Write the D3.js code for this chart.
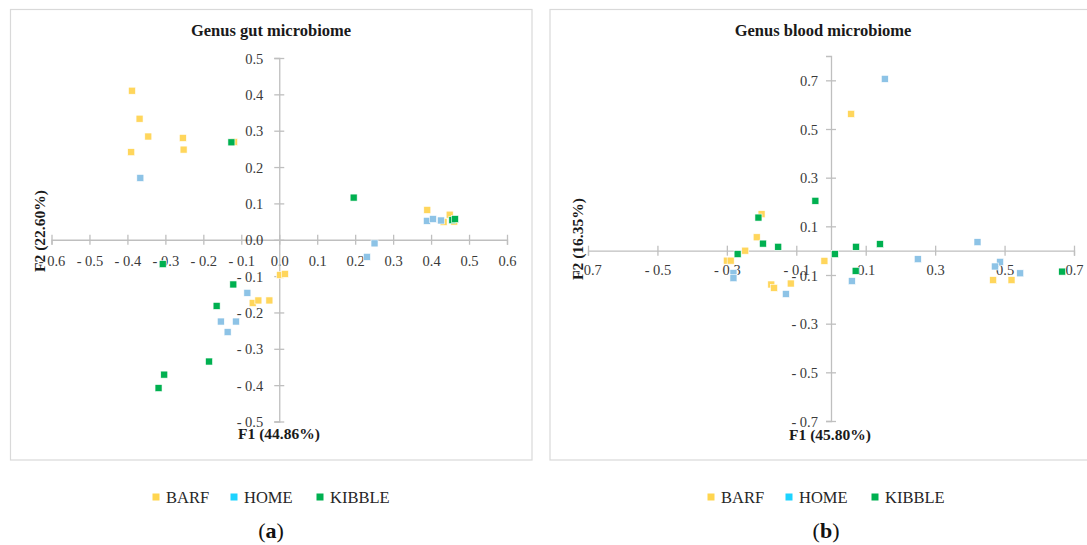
<!DOCTYPE html>
<html lang="en">
<head>
    <meta charset="UTF-8">
    <title>Genus gut / blood microbiome</title>
    <script src="https://d3js.org/d3.v7.min.js"></script>
    <style>
        body { margin: 0; background: #fff; }
    </style>
</head>
<body>
    <svg id="chart" width="1087" height="545"></svg>

    <script>
        // series order and colours
        const groups = ["BARF", "HOME", "KIBBLE"];
        const markerColors = ["#FFD65C", "#8DC3E6", "#00B050"];
        const legendColors = ["#FFD54F", "#1DD3FF", "#00B050"];

        // (a) genus gut microbiome, [F1, F2]
        const gutBarf = [
            [-0.388, 0.410], [-0.368, 0.333], [-0.345, 0.284], [-0.390, 0.241],
            [-0.254, 0.280], [-0.252, 0.248], [-0.119, 0.269], [0.002, -0.097],
            [0.015, -0.094], [-0.070, -0.174], [-0.055, -0.167], [-0.026, -0.167],
            [0.390, 0.082], [0.433, 0.049], [0.449, 0.069], [0.461, 0.050]
        ];
        const gutHome = [
            [-0.366, 0.170], [-0.084, -0.146], [-0.154, -0.225], [-0.114, -0.225],
            [-0.136, -0.254], [0.251, -0.010], [0.231, -0.047], [0.389, 0.052],
            [0.405, 0.057], [0.426, 0.053]
        ];
        const gutKibble = [
            [-0.126, 0.268], [-0.307, -0.067], [-0.121, -0.123], [-0.165, -0.182],
            [-0.185, -0.335], [-0.303, -0.371], [-0.318, -0.408], [0.196, 0.116],
            [0.456, 0.054], [0.463, 0.057]
        ];

        // (b) genus blood microbiome, [F1, F2]
        const bloodBarf = [
            [-0.300, -0.041], [-0.289, -0.041], [-0.247, 0.000], [-0.214, 0.055],
            [-0.200, 0.150], [-0.172, -0.139], [-0.164, -0.153], [-0.116, -0.135],
            [-0.019, -0.042], [0.058, 0.562], [0.467, -0.121], [0.520, -0.121]
        ];
        const bloodHome = [
            [-0.281, -0.092], [-0.281, -0.113], [-0.130, -0.178], [0.060, -0.125],
            [0.250, -0.035], [0.422, 0.035], [0.487, -0.046], [0.472, -0.065],
            [0.545, -0.093], [0.155, 0.706]
        ];
        const bloodKibble = [
            [-0.269, -0.014], [-0.209, 0.136], [-0.196, 0.029], [-0.152, 0.016],
            [-0.045, 0.205], [0.011, -0.014], [0.072, 0.016], [0.071, -0.083],
            [0.141, 0.027], [0.666, -0.086]
        ];

        // tick values
        const gutXTicks = [-0.6, -0.5, -0.4, -0.3, -0.2, -0.1, 0, 0.1, 0.2, 0.3, 0.4, 0.5, 0.6];
        const gutYTicks = [-0.5, -0.4, -0.3, -0.2, -0.1, 0, 0.1, 0.2, 0.3, 0.4, 0.5];
        const bloodXTicks = [-0.7, -0.5, -0.3, -0.1, 0.1, 0.3, 0.5, 0.7];
        const bloodYTicks = [-0.7, -0.5, -0.3, -0.1, 0.1, 0.3, 0.5, 0.7];

        const FONT = "'Liberation Serif', 'Times New Roman', serif";
        const svg = d3.select("#chart");

        // Excel style labels: "- 0.3"
        function fmt(v) {
            const s = Math.abs(v).toFixed(1);
            return v < -1e-9 ? "- " + s : s;
        }

        function drawPanel(p) {
            const g = svg.append("g").style("font-family", FONT);

            // frame
            g.append("rect")
                .attr("x", p.frame[0]).attr("y", p.frame[1])
                .attr("width", p.frame[2]).attr("height", p.frame[3])
                .attr("fill", "none").attr("stroke", "#d9d9d9").attr("stroke-width", 1.2);

            const x = d3.scaleLinear().domain(p.xDomain).range(p.xRange);
            const y = d3.scaleLinear().domain(p.yDomain).range(p.yRange);

            // horizontal axis through y = 0
            const xAxis = g.append("g")
                .attr("transform", `translate(0,${y(0)})`)
                .call(d3.axisBottom(x).tickValues(p.xTicks).tickFormat(fmt).tickSizeOuter(0).tickSize(5));
            xAxis.attr("font-family", null).attr("font-size", null);
            xAxis.select(".domain").attr("stroke", "#bfbfbf").attr("stroke-width", 1.3);
            xAxis.selectAll(".tick line").attr("y1", -5).attr("y2", 5)
                .attr("stroke", "#bfbfbf").attr("stroke-width", 1.3);
            xAxis.selectAll(".tick text")
                .attr("y", p.xLabelDy).attr("dy", "0.35em")
                .attr("fill", "#3a3a3a")
                .style("font-family", FONT).style("font-size", "14.5px");

            // vertical axis through x = 0
            const yAxis = g.append("g")
                .attr("transform", `translate(${x(0)},0)`)
                .call(d3.axisLeft(y).tickValues(p.yTicks).tickFormat(fmt).tickSizeOuter(0).tickSize(5));
            yAxis.attr("font-family", null).attr("font-size", null);
            yAxis.select(".domain").attr("stroke", "#bfbfbf").attr("stroke-width", 1.3);
            yAxis.selectAll(".tick line").attr("x1", -5).attr("x2", 5)
                .attr("stroke", "#bfbfbf").attr("stroke-width", 1.3);
            yAxis.selectAll(".tick text")
                .attr("x", -p.yLabelDx).attr("dy", "0.35em")
                .attr("fill", "#3a3a3a")
                .style("font-family", FONT).style("font-size", "14.5px");

            // points, KIBBLE last so it sits on top
            p.series.forEach((data, i) => {
                g.append("g").selectAll("rect")
                    .data(data)
                    .enter().append("rect")
                    .attr("x", d => x(d[0]) - 3.5)
                    .attr("y", d => y(d[1]) - 3.5)
                    .attr("width", 7).attr("height", 7)
                    .attr("fill", markerColors[i])
                    .attr("stroke", "#ffffff").attr("stroke-width", 0.6);
            });

            // titles
            g.append("text")
                .attr("x", p.titlePos[0]).attr("y", p.titlePos[1]).attr("dy", "0.35em")
                .attr("text-anchor", "middle").attr("font-size", 16.5).attr("font-weight", "bold")
                .attr("fill", "#1a1a1a").text(p.title);

            g.append("text")
                .attr("x", p.xTitlePos[0]).attr("y", p.xTitlePos[1]).attr("dy", "0.35em")
                .attr("text-anchor", "middle").attr("font-size", 15.5).attr("font-weight", "bold")
                .attr("fill", "#1a1a1a").text(p.xTitle);

            g.append("text")
                .attr("transform", `translate(${p.yTitlePos[0]},${p.yTitlePos[1]}) rotate(-90)`)
                .attr("dy", "0.35em")
                .attr("text-anchor", "middle").attr("font-size", 15.5).attr("font-weight", "bold")
                .attr("fill", "#1a1a1a").text(p.yTitle);

            // legend below frame
            const leg = g.append("g").attr("transform", `translate(${p.legendX},497)`);
            const legOffsets = [0, 78, 164];
            groups.forEach((name, i) => {
                leg.append("rect")
                    .attr("x", legOffsets[i] - 3.5).attr("y", -3.5)
                    .attr("width", 7).attr("height", 7)
                    .attr("fill", legendColors[i]);
                leg.append("text")
                    .attr("x", legOffsets[i] + 10).attr("dy", "0.35em")
                    .attr("font-size", 16.5).attr("fill", "#262626")
                    .text(name);
            });

            // panel letter
            const lab = g.append("text")
                .attr("x", p.letterX).attr("y", 530).attr("dy", "0.35em")
                .attr("text-anchor", "middle").attr("font-size", 22).attr("fill", "#111");
            lab.append("tspan").text("(");
            lab.append("tspan").attr("font-weight", "bold").text(p.letter);
            lab.append("tspan").text(")");
        }

        drawPanel({
            frame: [10.5, 9.5, 521.5, 450.5],
            xDomain: [-0.6, 0.6], xRange: [51.5, 507],
            yDomain: [-0.5, 0.5], yRange: [421.5, 58],
            xTicks: gutXTicks, yTicks: gutYTicks,
            xLabelDy: 21, yLabelDx: 16,
            series: [gutBarf, gutHome, gutKibble],
            title: "Genus gut microbiome", titlePos: [271, 30],
            xTitle: "F1 (44.86%)", xTitlePos: [279, 434],
            yTitle: "F2 (22.60%)", yTitlePos: [40, 231],
            legendX: 156, letter: "a", letterX: 271
        });

        drawPanel({
            frame: [550, 9.5, 545, 450.5],
            xDomain: [-0.7, 0.7], xRange: [588, 1074],
            yDomain: [-0.7, 0.8], yRange: [421, 56],
            xTicks: bloodXTicks, yTicks: bloodYTicks,
            xLabelDy: 19, yLabelDx: 13,
            series: [bloodBarf, bloodHome, bloodKibble],
            title: "Genus blood microbiome", titlePos: [823, 30],
            xTitle: "F1 (45.80%)", xTitlePos: [830, 435],
            yTitle: "F2 (16.35%)", yTitlePos: [578, 239],
            legendX: 711, letter: "b", letterX: 826
        });
    </script>
</body>
</html>
